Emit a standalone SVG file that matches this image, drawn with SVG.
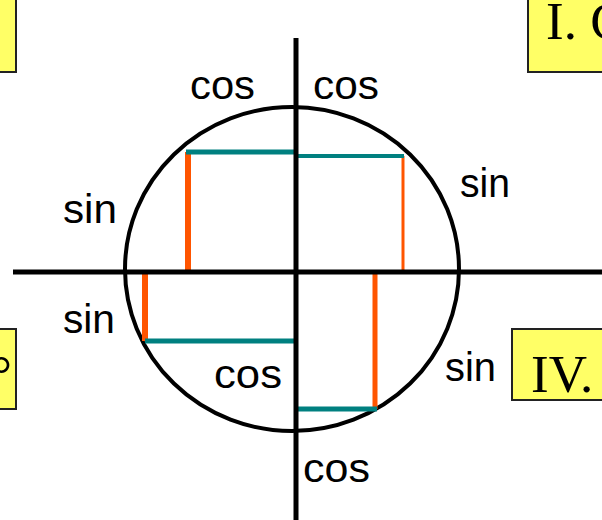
<svg xmlns="http://www.w3.org/2000/svg" width="602" height="520" viewBox="0 0 602 520">
<style>
.box{fill:#ffff66;stroke:#222;stroke-width:2}
.roman{font-family:"Liberation Serif","Times New Roman",serif;font-size:53px;fill:#000}
.lbl{font-family:"Liberation Sans",Arial,sans-serif;font-size:41px;fill:#000}
.axis{stroke:#000;stroke-width:5;fill:none}
.cos{stroke:#008080;fill:none}
.sin{stroke:#ff5500;fill:none}
</style>
<rect width="602" height="520" fill="#fff"/>
<g id="box-tl"><rect class="box" x="-5" y="-5" width="21" height="77"/></g>
<g id="box-tr"><rect class="box" x="528" y="-5" width="90" height="77"/><text class="roman" x="546" y="39">I. C</text></g>
<g id="box-bl"><rect class="box" x="-5" y="329" width="21" height="80"/><text class="roman" x="12" y="392" text-anchor="end">°</text></g>
<g id="box-br"><rect class="box" x="512" y="329" width="100" height="71"/><text class="roman" x="531" y="392">IV.</text></g>
<g id="circle"><ellipse cx="292" cy="269" rx="167" ry="162" fill="none" stroke="#000" stroke-width="4"/></g>
<g id="connectors">
<line class="sin" x1="188" y1="152" x2="188" y2="271" stroke-width="6"/>
<line class="cos" x1="186" y1="152" x2="296" y2="152" stroke-width="5"/>
<line class="sin" x1="403" y1="156" x2="403" y2="271" stroke-width="3"/>
<line class="cos" x1="296" y1="156" x2="404" y2="156" stroke-width="4"/>
<line class="sin" x1="145" y1="272" x2="145" y2="341" stroke-width="6"/>
<line class="cos" x1="145" y1="341" x2="296" y2="341" stroke-width="5"/>
<line class="sin" x1="375" y1="272" x2="375" y2="409" stroke-width="5"/>
<line class="cos" x1="296" y1="409" x2="377" y2="409" stroke-width="5"/>
</g>
<g id="axes">
<line class="axis" x1="296" y1="38" x2="296" y2="520"/>
<line class="axis" x1="13" y1="272" x2="602" y2="272"/>
</g>
<g id="labels">
<text class="lbl" x="190" y="99" textLength="65" lengthAdjust="spacingAndGlyphs">cos</text>
<text class="lbl" x="313" y="99" textLength="66" lengthAdjust="spacingAndGlyphs">cos</text>
<text class="lbl" x="63" y="223" textLength="54" lengthAdjust="spacingAndGlyphs">sin</text>
<text class="lbl" x="460" y="197" textLength="50" lengthAdjust="spacingAndGlyphs">sin</text>
<text class="lbl" x="63" y="333" textLength="52" lengthAdjust="spacingAndGlyphs">sin</text>
<text class="lbl" x="214" y="388" textLength="68" lengthAdjust="spacingAndGlyphs">cos</text>
<text class="lbl" x="445" y="381" textLength="51" lengthAdjust="spacingAndGlyphs">sin</text>
<text class="lbl" x="303" y="482" textLength="67" lengthAdjust="spacingAndGlyphs">cos</text>
</g>
</svg>
